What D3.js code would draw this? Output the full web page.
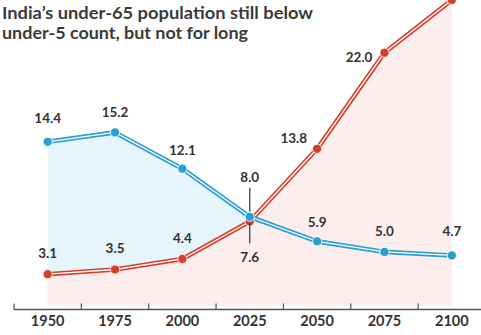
<!DOCTYPE html>
<html>
<head>
<meta charset="utf-8">
<script src="https://cdn.jsdelivr.net/npm/d3@7/dist/d3.min.js"></script>
<style>
  html, body { margin: 0; padding: 0; background: #ffffff; }
  svg { display: block; }
  text { font-family: Lato, "Open Sans", sans-serif; }
</style>
</head>
<body>
<svg id="chart" width="481" height="335"></svg>
<script>
// Share of India's population (%), by year
const years = ["1950", "1975", "2000", "2025", "2050", "2075", "2100"];
const under5 = [14.4, 15.2, 12.1, 8.0, 5.9, 5.0, 4.7];
const over65 = [3.1, 3.5, 4.4, 7.6, 13.8, 22.0, 26.5];
const titleLines = ["India\u2019s under-65 population still below", "under-5 count, but not for long"];

const W = 481, H = 335;
const svg = d3.select("#chart");

const x = d3.scaleBand().domain(years).range([14, 485.5]);
const cx = d => x(d) + x.bandwidth() / 2;
const y = d3.scaleLinear().domain([0, 26.5]).range([310.5, 0]);
const base = 306;

const blue = "#2b9fd0", blueFill = "#e6f5fb";
const red = "#d53f2b", redFill = "#fdeeee";
const ink = "#333333";

const blueData = years.map((yr, i) => ({ yr, v: under5[i] }));
const redData = years.map((yr, i) => ({ yr, v: over65[i] }));

// Filled areas: under-5 first, ageing share over it
const area = d3.area().x(d => cx(d.yr)).y0(base).y1(d => y(d.v));
svg.append("path").datum(blueData).attr("d", area).attr("fill", blueFill);
svg.append("path").datum(redData).attr("d", area).attr("fill", redFill);

// Double-rule lines: coloured stroke with a white core
const line = d3.line().x(d => cx(d.yr)).y(d => y(d.v));
function doubleLine(data, color) {
  svg.append("path").datum(data).attr("d", line)
    .attr("fill", "none").attr("stroke", color).attr("stroke-width", 4.6)
    .attr("stroke-linejoin", "round");
  svg.append("path").datum(data).attr("d", line)
    .attr("fill", "none").attr("stroke", "#ffffff").attr("stroke-width", 1.3)
    .attr("stroke-linejoin", "round");
}
doubleLine(redData, red);
doubleLine(blueData, blue);

function dots(data, color) {
  svg.append("g").selectAll("circle").data(data).join("circle")
    .attr("cx", d => cx(d.yr)).attr("cy", d => y(d.v)).attr("r", 4.6)
    .attr("fill", color).attr("stroke", "#ffffff").attr("stroke-width", 0.8);
}
dots(redData, red);
dots(blueData, blue);

// Value labels
const fmt = d3.format(".1f");
const lbl = svg.append("g").attr("font-size", 13.5).attr("font-weight", 700)
  .attr("fill", ink).attr("dominant-baseline", "central");

const blueDy = [-24, -20, -19, -40, -19, -21, -24];
blueData.forEach((d, i) => {
  lbl.append("text").attr("x", cx(d.yr)).attr("y", y(d.v) + blueDy[i])
    .attr("text-anchor", "middle").text(fmt(d.v));
});
redData.forEach((d, i) => {
  if (i === 6) return;
  let tx = cx(d.yr), ty = y(d.v) - 21, anchor = "middle";
  if (i === 3) { ty = y(d.v) + 36; }
  if (i === 4) { tx -= 10; ty = y(d.v) - 11; anchor = "end"; }
  if (i === 5) { tx -= 12; ty = y(d.v) + 4; anchor = "end"; }
  lbl.append("text").attr("x", tx).attr("y", ty).attr("text-anchor", anchor).text(fmt(d.v));
});

// Leader ticks at the crossover year
const xc = cx("2025");
svg.append("line").attr("x1", xc).attr("x2", xc)
  .attr("y1", y(under5[3]) - 29).attr("y2", y(under5[3]) - 5)
  .attr("stroke", ink).attr("stroke-width", 1.2);
svg.append("line").attr("x1", xc).attr("x2", xc)
  .attr("y1", y(over65[3]) + 1).attr("y2", y(over65[3]) + 22)
  .attr("stroke", ink).attr("stroke-width", 1.2);

// Year axis with upward boundary ticks
const axisY = 309.5;
const ax = svg.append("g");
ax.append("line").attr("x1", 14).attr("x2", W).attr("y1", axisY).attr("y2", axisY)
  .attr("stroke", "#555").attr("stroke-width", 1.3);
ax.selectAll("line.tk").data(years).join("line").attr("class", "tk")
  .attr("x1", d => x(d)).attr("x2", d => x(d))
  .attr("y1", axisY - 6).attr("y2", axisY).attr("stroke", "#555").attr("stroke-width", 1.2);
ax.selectAll("text").data(years).join("text")
  .attr("x", d => cx(d)).attr("y", 326).attr("text-anchor", "middle")
  .attr("font-size", 14.5).attr("font-weight", 700).attr("fill", ink).text(d => d);

// Title
const title = svg.append("g").attr("font-size", 17).attr("font-weight", 700).attr("fill", "#3a3a3a");
title.append("text").attr("x", 2).attr("y", 18.5).attr("textLength", 311)
  .attr("lengthAdjust", "spacingAndGlyphs").text(titleLines[0]);
title.append("text").attr("x", 2).attr("y", 38.5).attr("textLength", 246)
  .attr("lengthAdjust", "spacingAndGlyphs").text(titleLines[1]);
</script>
</body>
</html>
